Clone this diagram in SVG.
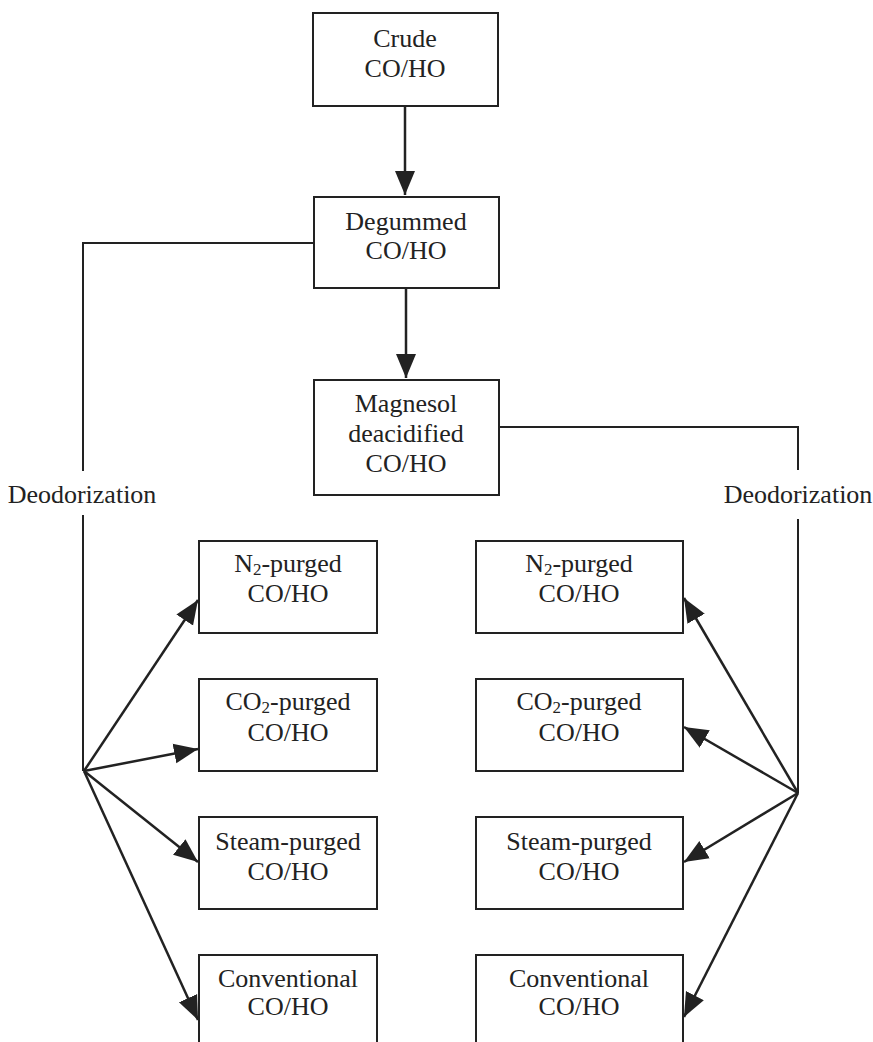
<svg xmlns="http://www.w3.org/2000/svg" width="873" height="1042" viewBox="0 0 873 1042">
<style>
.box{fill:#fff;stroke:#222;stroke-width:2}
.t{font-family:"Liberation Serif","Times New Roman",serif;font-size:26px;fill:#222;text-anchor:middle}
.c{fill:none;stroke:#222;stroke-width:2}
.a{fill:none;stroke:#222;stroke-width:2.5;marker-end:url(#ah)}
</style>
<defs>
<marker id="ah" markerUnits="userSpaceOnUse" markerWidth="26" markerHeight="22" viewBox="0 0 26 22" refX="24" refY="11" orient="auto">
<path d="M0,1 L24,11 L0,21 Z" fill="#222"/>
</marker>
</defs>
<rect width="873" height="1042" fill="#fff"/>
<g id="connectors">
<path class="a" d="M405,106 L405,195"/>
<path class="a" d="M406,288 L406,378"/>
<path class="c" d="M314,243 L83,243 L83,471"/>
<path class="c" d="M83,515 L83,771"/>
<path class="c" d="M499,427 L798,427 L798,470"/>
<path class="c" d="M798,519 L798,793"/>
<path class="a" d="M84,771 L198,600"/>
<path class="a" d="M84,771 L198,749"/>
<path class="a" d="M84,771 L198,862"/>
<path class="a" d="M84,771 L198,1020"/>
<path class="a" d="M798,793 L684,598"/>
<path class="a" d="M798,793 L684,727"/>
<path class="a" d="M798,793 L684,862"/>
<path class="a" d="M798,793 L684,1017"/>
</g>
<g id="lbl-left"><text class="t" x="82" y="503">Deodorization</text></g>
<g id="lbl-right"><text class="t" x="798" y="503">Deodorization</text></g>
<g id="crude"><rect class="box" x="313" y="13" width="185" height="93"/><text class="t" x="405" y="47">Crude</text><text class="t" x="405" y="77">CO/HO</text></g>
<g id="degummed"><rect class="box" x="314" y="197" width="185" height="91"/><text class="t" x="406" y="230">Degummed</text><text class="t" x="406" y="259">CO/HO</text></g>
<g id="magnesol"><rect class="box" x="314" y="380" width="185" height="115"/><text class="t" x="406" y="412">Magnesol</text><text class="t" x="406" y="442">deacidified</text><text class="t" x="406" y="472">CO/HO</text></g>
<g id="n2-left"><rect class="box" x="199" y="541" width="178" height="92"/><text class="t" x="288" y="572">N<tspan font-size="17" dy="3">2</tspan><tspan dy="-3">-purged</tspan></text><text class="t" x="288" y="602">CO/HO</text></g>
<g id="co2-left"><rect class="box" x="199" y="679" width="178" height="92"/><text class="t" x="288" y="710">CO<tspan font-size="17" dy="3">2</tspan><tspan dy="-3">-purged</tspan></text><text class="t" x="288" y="741">CO/HO</text></g>
<g id="steam-left"><rect class="box" x="199" y="817" width="178" height="92"/><text class="t" x="288" y="850">Steam-purged</text><text class="t" x="288" y="880">CO/HO</text></g>
<g id="conv-left"><rect class="box" x="199" y="955" width="178" height="100"/><text class="t" x="288" y="987">Conventional</text><text class="t" x="288" y="1015">CO/HO</text></g>
<g id="n2-right"><rect class="box" x="476" y="541" width="207" height="92"/><text class="t" x="579" y="572">N<tspan font-size="17" dy="3">2</tspan><tspan dy="-3">-purged</tspan></text><text class="t" x="579" y="602">CO/HO</text></g>
<g id="co2-right"><rect class="box" x="476" y="679" width="207" height="92"/><text class="t" x="579" y="710">CO<tspan font-size="17" dy="3">2</tspan><tspan dy="-3">-purged</tspan></text><text class="t" x="579" y="741">CO/HO</text></g>
<g id="steam-right"><rect class="box" x="476" y="817" width="207" height="92"/><text class="t" x="579" y="850">Steam-purged</text><text class="t" x="579" y="880">CO/HO</text></g>
<g id="conv-right"><rect class="box" x="476" y="955" width="207" height="100"/><text class="t" x="579" y="987">Conventional</text><text class="t" x="579" y="1015">CO/HO</text></g>
</svg>
